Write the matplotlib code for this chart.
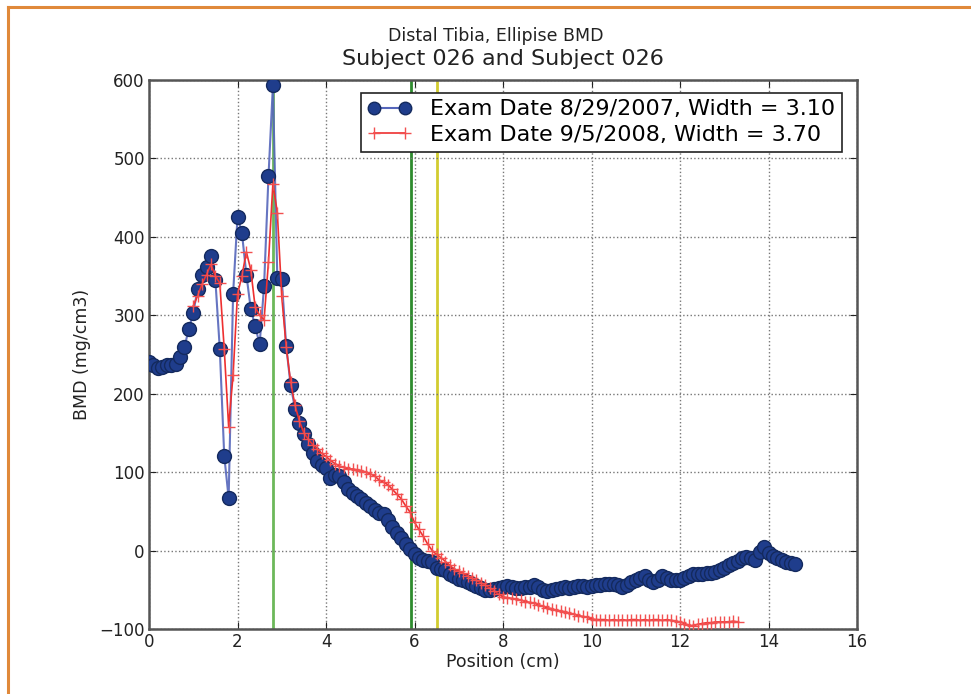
import numpy as np
import matplotlib
matplotlib.use("Agg")
import matplotlib.pyplot as plt
from matplotlib.lines import Line2D

# ---- data ----
blue_x_start, blue_step = 0.0, 0.1
blue_y = [240, 236, 233, 234, 236, 236, 238, 247, 259, 283,
          303, 334, 352, 362, 376, 345, 257, 121, 67, 327,
          425, 405, 352, 308, 286, 263, 337, 477, 593, 347,
          346, 261, 211, 181, 163, 149, 136, 124, 114, 109,
          105, 92, 96, 95, 88, 79, 73, 69, 66, 61,
          57, 52, 48, 46, 39, 30, 23, 16, 8, 2,
          -4, -9, -12, -13, -15, -22, -23, -25, -30, -33,
          -36, -38, -40, -42, -45, -48, -50, -50, -49, -48,
          -46, -45, -46, -48, -48, -47, -46, -44, -47, -50,
          -52, -50, -49, -48, -47, -48, -46, -45, -45, -46,
          -45, -44, -44, -43, -42, -43, -44, -46, -44, -40,
          -37, -35, -33, -37, -40, -37, -33, -35, -37, -38,
          -37, -35, -32, -30, -30, -30, -29, -28, -27, -25,
          -22, -19, -16, -13, -10, -8, -9, -12, -2, 4,
          -3, -7, -9, -12, -14, -16, -17]

red_x_start, red_step = 1.0, 0.1
red_y = [312, 325, 340, 352, 365, 350, 341, 257, 158, 224,
         327, 350, 381, 358, 310, 300, 294, 368, 468, 431,
         324, 260, 215, 185, 165, 150, 142, 135, 130, 124,
         120, 115, 111, 108, 106, 104, 104, 103, 102, 100,
         98, 95, 90, 87, 84, 78, 72, 66, 57, 49,
         36, 27, 18, 8, 0, -5, -9, -14, -19, -24,
         -26, -29, -32, -35, -38, -41, -44, -48, -51, -56,
         -59, -60, -61, -62, -63, -65, -66, -67, -69, -71,
         -73, -74, -76, -77, -78, -80, -81, -83, -84, -85,
         -87, -88, -88, -88, -89, -88, -89, -88, -89, -88,
         -88, -89, -88, -89, -88, -88, -89, -88, -89, -90,
         -91, -93, -95, -96, -94, -93, -92, -92, -91, -91,
         -91, -91, -90, -91]

blue_label = "Exam Date 8/29/2007, Width = 3.10"
red_label = "Exam Date 9/5/2008, Width = 3.70"
vlines = [(2.8, "#6cb85a"), (5.92, "#2e8b2e"), (6.5, "#d2cc30")]

xticks = list(range(0, 17, 2))
yticks = list(range(-100, 601, 100))

blue_x = blue_x_start + blue_step * np.arange(len(blue_y))
red_x = red_x_start + red_step * np.arange(len(red_y))

# ---- figure ----
fig = plt.figure(figsize=(9.71, 6.94), dpi=100)
fig.patch.set_facecolor("white")
ax = fig.add_axes([149/971, 1-629/694, (857-149)/971, (629-80)/694])

for xv, c in vlines:
    ax.axvline(xv, color=c, lw=2, zorder=1)

ax.plot(blue_x, blue_y, '-', color="#5566bb", lw=1.5, alpha=0.9, zorder=2)
ax.plot(blue_x, blue_y, 'o', ms=10, mfc="#1f3d8c", mec="#142a5e", mew=1.0,
        zorder=3)
ax.plot(red_x, red_y, '-', color="#ee3030", lw=1.2, marker='+', ms=8,
        mec="#f25050", mew=1.0, zorder=4)

# legend proxies
h1 = Line2D([], [], color="#5566bb", lw=1.5, marker='o', ms=9,
            mfc="#1f3d8c", mec="#142a5e")
h2 = Line2D([], [], color="#ee3030", lw=1.2, marker='+', ms=8, mec="#f25050")
leg = ax.legend([h1, h2], [blue_label, red_label], loc="upper right",
                bbox_to_anchor=(0.994, 0.997), fontsize=16, fancybox=False,
                numpoints=2, handlelength=2.0, borderpad=0.3,
                labelspacing=0.25, handletextpad=0.8, framealpha=1)
leg.get_frame().set_edgecolor("#222222")
leg.get_frame().set_linewidth(1.2)

ax.set_xlim(0, 16)
ax.set_ylim(-100, 600)
ax.set_xticks(xticks)
ax.set_yticks(yticks)
ax.set_yticklabels([str(v).replace('-', '\u2212') for v in yticks])
ax.tick_params(direction="in", length=5, labelsize=12, colors="#222222",
               top=True, right=True, pad=3)
ax.grid(True, linestyle=":", color="#777777", lw=1)
for s in ax.spines.values():
    s.set_color("#555555")
    s.set_linewidth(1.8)

ax.set_xlabel("Position (cm)", fontsize=12.5, color="#222222", labelpad=1)
ax.set_ylabel("BMD (mg/cm3)", fontsize=12.5, color="#222222", labelpad=6)

fig.text(496/971, 1-36/694, "Distal Tibia, Ellipise BMD", ha="center",
         va="center", fontsize=12.5, color="#222222")
fig.text(503/971, 1-59/694, "Subject 026 and Subject 026", ha="center",
         va="center", fontsize=16, color="#222222")

# orange frame (top and left)
fig.add_artist(Line2D([8/971, 1.0], [1-7/694, 1-7/694], color="#e0893a",
                      lw=2.2, transform=fig.transFigure))
fig.add_artist(Line2D([8/971, 8/971], [0, 1-7/694], color="#e0893a",
                      lw=2.2, transform=fig.transFigure))

fig.savefig("out.png", dpi=100)
